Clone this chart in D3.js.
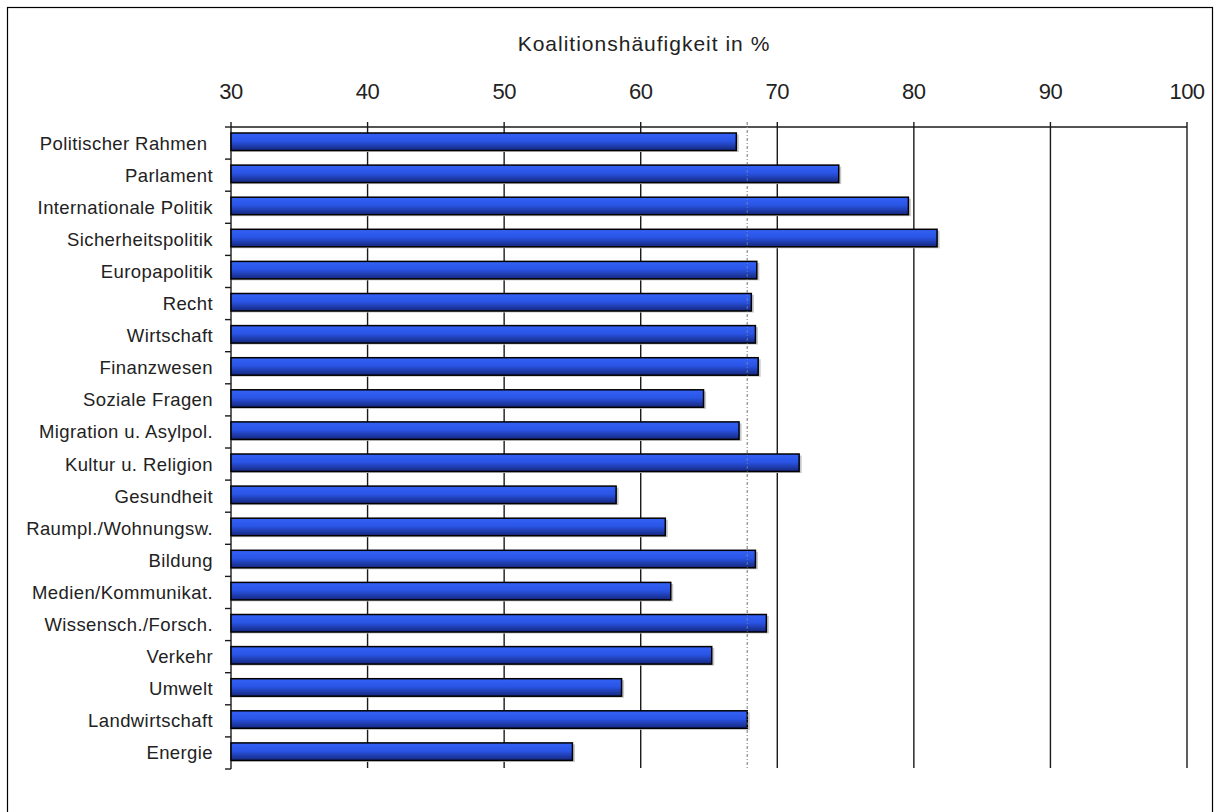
<!DOCTYPE html>
<html>
<head>
<meta charset="utf-8">
<script src="https://cdn.jsdelivr.net/npm/d3@7"></script>
<style>
  body { margin: 0; background: #fff; }
  svg { display: block; font-family: "Liberation Sans", Arial, sans-serif; }
</style>
</head>
<body>
<svg id="chart" width="1215" height="812"></svg>
<script>
const categories = [
  "Politischer Rahmen ", "Parlament", "Internationale Politik", "Sicherheitspolitik",
  "Europapolitik", "Recht", "Wirtschaft", "Finanzwesen", "Soziale Fragen",
  "Migration u. Asylpol.", "Kultur u. Religion", "Gesundheit", "Raumpl./Wohnungsw.",
  "Bildung", "Medien/Kommunikat.", "Wissensch./Forsch.", "Verkehr", "Umwelt",
  "Landwirtschaft", "Energie"
];
const values = [
  67.0, 74.5, 79.6, 81.7, 68.5, 68.1, 68.4, 68.6, 64.6, 67.2,
  71.6, 58.2, 61.8, 68.4, 62.2, 69.2, 65.2, 58.6, 67.8, 55.0
];
const xTicks = [30, 40, 50, 60, 70, 80, 90, 100];
const averageLine = 67.8;
const axisTitle = "Koalitionshäufigkeit in %";

const svg = d3.select("#chart");
const plotL = 231, plotR = 1187, plotT = 127, plotB = 769;

// outer frame (runs off the bottom of the picture)
svg.append("rect")
  .attr("x", 7.5).attr("y", 7.5)
  .attr("width", 1205).attr("height", 830)
  .attr("fill", "#fff").attr("stroke", "#000").attr("stroke-width", 1.2);

const x = d3.scaleLinear().domain([30, 100]).range([plotL, plotR]);
const y = d3.scaleBand().domain(categories).range([plotT, plotB]).padding(0);

const defs = svg.append("defs");
const grad = defs.append("linearGradient")
  .attr("id", "barGrad").attr("x1", 0).attr("y1", 0).attr("x2", 0).attr("y2", 1);
grad.append("stop").attr("offset", "0%").attr("stop-color", "#3462f6");
grad.append("stop").attr("offset", "45%").attr("stop-color", "#2a55e6");
grad.append("stop").attr("offset", "100%").attr("stop-color", "#15277c");

// gridlines
svg.append("g")
  .selectAll("line")
  .data(xTicks.slice(1))
  .join("line")
  .attr("x1", d => x(d)).attr("x2", d => x(d))
  .attr("y1", plotT - 5).attr("y2", plotB - 1)
  .attr("stroke", "#1a1a1a").attr("stroke-width", 1.4);

// top axis line + value axis at 30
svg.append("line")
  .attr("x1", plotL).attr("x2", plotR)
  .attr("y1", plotT).attr("y2", plotT)
  .attr("stroke", "#1a1a1a").attr("stroke-width", 1.4);
svg.append("line")
  .attr("x1", plotL).attr("x2", plotL)
  .attr("y1", plotT - 5).attr("y2", plotB)
  .attr("stroke", "#1a1a1a").attr("stroke-width", 1.4);

svg.append("g")
  .selectAll("text")
  .data(xTicks)
  .join("text")
  .attr("x", d => x(d))
  .attr("y", 99)
  .attr("text-anchor", "middle")
  .attr("font-size", 22)
  .attr("fill", "#222")
  .attr("letter-spacing", -0.5)
  .text(d => d);

svg.append("text")
  .attr("x", 644).attr("y", 51)
  .attr("text-anchor", "middle")
  .attr("font-size", 21)
  .attr("fill", "#222")
  .attr("letter-spacing", 1)
  .text(axisTitle);

// category ticks at band boundaries
const bounds = categories.map(c => y(c)).concat([plotB]);
svg.append("g")
  .selectAll("line")
  .data(bounds)
  .join("line")
  .attr("x1", plotL - 6).attr("x2", plotL)
  .attr("y1", d => d).attr("y2", d => d)
  .attr("stroke", "#1a1a1a").attr("stroke-width", 1.4);

svg.append("g")
  .selectAll("text")
  .data(categories)
  .join("text")
  .attr("x", 213)
  .attr("y", d => y(d) + y.bandwidth() / 2)
  .attr("dy", "0.35em")
  .attr("text-anchor", "end")
  .attr("font-size", 18.5)
  .attr("fill", "#222")
  .attr("letter-spacing", 0.4)
  .style("white-space", "pre")
  .text(d => d);

// average line
svg.append("line")
  .attr("x1", x(averageLine)).attr("x2", x(averageLine))
  .attr("y1", plotT - 5).attr("y2", plotB - 1)
  .attr("stroke", "#999").attr("stroke-width", 1.2)
  .attr("stroke-dasharray", "3,2,1,2");

// bars with soft grey shadow
const barH = 17.5, barOff = 6;
const bars = svg.append("g");
bars.selectAll("rect.shadow")
  .data(values)
  .join("rect")
  .attr("class", "shadow")
  .attr("x", plotL + 1)
  .attr("y", (d, i) => y(categories[i]) + barOff + 1.5)
  .attr("width", d => x(d) - plotL + 1.5)
  .attr("height", barH)
  .attr("fill", "#c8c8c8");
bars.selectAll("rect.bar")
  .data(values)
  .join("rect")
  .attr("class", "bar")
  .attr("x", plotL)
  .attr("y", (d, i) => y(categories[i]) + barOff)
  .attr("width", d => x(d) - plotL)
  .attr("height", barH)
  .attr("fill", "url(#barGrad)")
  .attr("stroke", "#000").attr("stroke-width", 1.5);

// redraw the average line faintly over the bars
svg.append("line")
  .attr("x1", x(averageLine)).attr("x2", x(averageLine))
  .attr("y1", plotT - 5).attr("y2", plotB - 1)
  .attr("stroke", "#999").attr("stroke-opacity", 0.6).attr("stroke-width", 1)
  .attr("stroke-dasharray", "3,2,1,2");
</script>
</body>
</html>
